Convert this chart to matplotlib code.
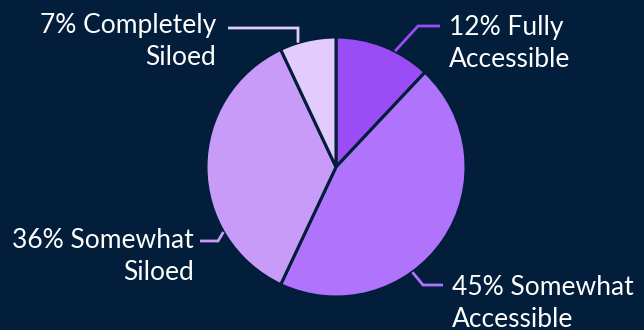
import matplotlib
matplotlib.use("Agg")
import matplotlib.pyplot as plt
import numpy as np

# ---- data ----
categories = ["Fully\nAccessible", "Somewhat\nAccessible", "Somewhat\nSiloed", "Completely\nSiloed"]
values = [12, 45, 36, 7]
colors = ["#9a4cf6", "#b074fc", "#c89bf8", "#e2ccfd"]

# ---- layout (pixel coordinates, y measured from the top) ----
W, H = 644, 330
center_px = (336, 167)
radius_px = 130
anchor_deg = [27, 144, 240, 343]          # clockwise from 12 o'clock
elbow_px = [(418, 26), (423, 285), (218, 241), (298, 28)]
end_px = [(440, 26), (443, 285), (200, 241), (228, 28)]
text_px = [(449, 35), (452, 295), (194, 248), (216, 33)]
text_ha = ["left", "left", "right", "right"]
line_gap = 32

bg = "#021e3b"
fig = plt.figure(figsize=(W / 100, H / 100), dpi=100, facecolor=bg)
ax = fig.add_axes([0, 0, 1, 1])
ax.set_facecolor(bg)
ax.set_xlim(0, W)
ax.set_ylim(0, H)
ax.set_aspect("equal")
ax.axis("off")

cx, cy = center_px[0], H - center_px[1]
ax.pie(values, colors=colors, startangle=90, counterclock=False,
       center=(cx, cy), radius=radius_px,
       wedgeprops=dict(edgecolor=bg, linewidth=2.2))
ax.set_xlim(0, W)
ax.set_ylim(0, H)

font = ["Lato", "DejaVu Sans"]
for i, (lab, v) in enumerate(zip(categories, values)):
    a = np.deg2rad(anchor_deg[i])
    ax0 = cx + radius_px * np.sin(a)
    ay0 = cy + radius_px * np.cos(a)
    ex, ey = elbow_px[i]
    fx, fy = end_px[i]
    ax.plot([ax0, ex, fx], [ay0, H - ey, H - fy], color=colors[i], lw=2,
            solid_capstyle="butt", solid_joinstyle="miter")
    lines = lab.split("\n")
    lines[0] = f"{v}% " + lines[0]
    tx, ty = text_px[i]
    for j, ln in enumerate(lines):
        ax.text(tx, H - (ty + j * line_gap), ln, ha=text_ha[i], va="baseline",
                color="white", fontsize=19, family=font)

fig.savefig("out.png", dpi=100, facecolor=bg)
